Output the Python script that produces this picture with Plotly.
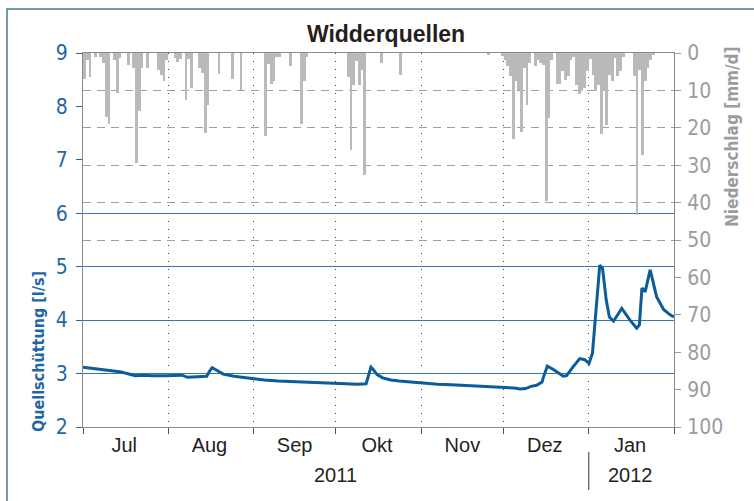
"""
Widderquellen: Quellschüttung und Niederschlag, Jul 2011 - Jan 2012
"""

import plotly.graph_objects as go

# --- data -------------------------------------------------------------------

# daily precipitation [mm/d] (days without rain are left out)
precip_dates = [
    "2011-07-01", "2011-07-02", "2011-07-03", "2011-07-05", "2011-07-07", "2011-07-08",
    "2011-07-09", "2011-07-10", "2011-07-12", "2011-07-13", "2011-07-14", "2011-07-17",
    "2011-07-19", "2011-07-20", "2011-07-21", "2011-07-22", "2011-07-24", "2011-07-28",
    "2011-07-29", "2011-07-30", "2011-07-31",
    "2011-08-03", "2011-08-04", "2011-08-05", "2011-08-07", "2011-08-08", "2011-08-09",
    "2011-08-12", "2011-08-13", "2011-08-14", "2011-08-15", "2011-08-19", "2011-08-24",
    "2011-08-27",
    "2011-09-05", "2011-09-06", "2011-09-07", "2011-09-08", "2011-09-09", "2011-09-10",
    "2011-09-14", "2011-09-18", "2011-09-19", "2011-09-20",
    "2011-10-05", "2011-10-06", "2011-10-07", "2011-10-08", "2011-10-09", "2011-10-10",
    "2011-10-11", "2011-10-17", "2011-10-24",
    "2011-11-25", "2011-11-30",
    "2011-12-01", "2011-12-02", "2011-12-03", "2011-12-04", "2011-12-05", "2011-12-06",
    "2011-12-07", "2011-12-08", "2011-12-09", "2011-12-10", "2011-12-12", "2011-12-13",
    "2011-12-14", "2011-12-15", "2011-12-16", "2011-12-17", "2011-12-18", "2011-12-20",
    "2011-12-21", "2011-12-22", "2011-12-23", "2011-12-24", "2011-12-25", "2011-12-26",
    "2011-12-27", "2011-12-28", "2011-12-29", "2011-12-30", "2011-12-31",
    "2012-01-01", "2012-01-02", "2012-01-03", "2012-01-04", "2012-01-05", "2012-01-06",
    "2012-01-07", "2012-01-08", "2012-01-09", "2012-01-10", "2012-01-11", "2012-01-12",
    "2012-01-13", "2012-01-17", "2012-01-18", "2012-01-19", "2012-01-20", "2012-01-21",
    "2012-01-22", "2012-01-23", "2012-01-24",
]
precip_mm = [
    7.0, 2.0, 6.5, 1.0, 1.2, 2.7,
    17.0, 19.0, 1.8, 10.7, 1.3, 3.3,
    4.0, 29.5, 15.4, 4.0, 4.0, 4.5,
    5.8, 7.4, 2.0,
    1.3, 2.4, 1.5, 12.5, 1.5, 9.4,
    4.0, 5.3, 21.4, 14.0, 5.6, 6.9,
    10.0,
    22.3, 3.0, 8.3, 7.6, 1.2, 1.0,
    3.6, 19.0, 7.6, 1.2,
    6.5, 26.0, 8.5, 2.2, 8.6, 4.5,
    32.5, 2.7, 5.8,
    0.4, 0.8,
    2.0, 3.6, 6.2, 22.9, 7.4, 9.8,
    21.0, 4.0, 13.8, 2.7, 3.6, 1.8,
    2.7, 3.1, 39.7, 17.4, 1.8, 8.3,
    8.3, 4.9, 7.1, 6.2, 2.0, 1.0,
    8.6, 11.0, 10.2, 9.4, 4.9,
    1.5, 5.8, 10.2, 8.6, 21.7, 10.2,
    19.3, 5.8, 7.6, 1.3, 6.2, 4.9,
    1.0, 6.2, 43.2, 4.5, 27.2, 7.6,
    4.0, 1.8, 0.5,
]

# spring discharge [l/s]
flow_times = [
    "2011-07-01", "2011-07-04", "2011-07-09", "2011-07-13", "2011-07-15", "2011-07-17",
    "2011-07-20", "2011-07-23", "2011-07-26", "2011-07-31", "2011-08-04", "2011-08-06",
    "2011-08-08", "2011-08-11", "2011-08-15", "2011-08-16", "2011-08-17", "2011-08-18",
    "2011-08-21", "2011-08-25", "2011-08-28", "2011-09-01", "2011-09-05", "2011-09-10",
    "2011-09-15", "2011-09-20", "2011-09-25", "2011-09-30", "2011-10-03", "2011-10-06",
    "2011-10-09", "2011-10-12", "2011-10-13 06:00", "2011-10-13 18:00", "2011-10-14 12:00",
    "2011-10-16", "2011-10-18", "2011-10-21", "2011-10-24", "2011-10-28", "2011-11-02",
    "2011-11-07", "2011-11-12", "2011-11-17", "2011-11-22", "2011-11-27", "2011-12-02",
    "2011-12-05", "2011-12-07", "2011-12-09", "2011-12-11", "2011-12-13", "2011-12-15",
    "2011-12-15 10:00", "2011-12-16 22:00", "2011-12-19", "2011-12-22 17:00",
    "2011-12-23 22:00", "2011-12-26 08:00", "2011-12-28 17:00", "2011-12-30 12:00",
    "2012-01-01 02:00", "2012-01-02 08:00", "2012-01-03 12:00", "2012-01-04 10:00",
    "2012-01-05", "2012-01-06", "2012-01-07 08:00", "2012-01-08 12:00", "2012-01-10",
    "2012-01-13", "2012-01-16", "2012-01-18 10:00", "2012-01-19 10:00", "2012-01-20 08:00",
    "2012-01-21 12:00", "2012-01-23 08:00", "2012-01-25 16:00", "2012-01-28 05:00",
    "2012-01-30 14:00", "2012-02-01",
]
flow_ls = [
    3.12, 3.10, 3.06, 3.04, 3.03, 3.00,
    2.96, 2.97, 2.96, 2.96, 2.96, 2.97,
    2.93, 2.94, 2.95, 3.04, 3.11, 3.08,
    2.99, 2.95, 2.93, 2.90, 2.88, 2.86,
    2.85, 2.85, 2.84, 2.83, 2.82, 2.82,
    2.80, 2.81, 3.04, 3.12, 3.08,
    2.98, 2.92, 2.88, 2.86, 2.84, 2.82,
    2.80, 2.79, 2.78, 2.77, 2.76, 2.74,
    2.73, 2.71, 2.72, 2.76, 2.78, 2.84,
    2.92, 3.14, 3.08, 2.95,
    2.96, 3.13, 3.28, 3.26,
    3.19, 3.38, 4.06, 4.69,
    5.03, 4.97, 4.38, 4.06, 3.98,
    4.22, 4.00, 3.85, 3.91, 4.60,
    4.53, 4.94, 4.44, 4.20,
    4.10, 4.06,
]

# axis labels
month_starts = ["2011-07-01", "2011-08-01", "2011-09-01", "2011-10-01", "2011-11-01",
                "2011-12-01", "2012-01-01", "2012-02-01"]
month_mids = ["2011-07-16", "2011-08-16", "2011-09-16", "2011-10-16", "2011-11-16",
              "2011-12-16", "2012-01-16"]
month_names = ["Jul", "Aug", "Sep", "Okt", "Nov", "Dez", "Jan"]
years = ["2011", "2012"]
year_pos = ["2011-10-01", "2012-01-16"]

BLUE = '#0b5c99'
AXIS_BLUE = '#1f67a3'
GRAY = '#9b9c9e'
BAR_GRAY = '#b9babc'
NARROW = 'Liberation Sans Narrow, DejaVu Sans Condensed, Roboto Condensed, Roboto, sans-serif'
SANS = 'Liberation Sans, Arial, sans-serif'

# plot area in pixels
L, R, T, B = 83, 674, 53, 427
PW, PH = R - L, B - T

# --- figure -----------------------------------------------------------------

fig = go.Figure()

fig.add_trace(go.Bar(
    x=precip_dates,
    y=precip_mm,
    yaxis='y2',
    xperiod=86400000,
    xperiodalignment='middle',
    width=86400000,
    marker=dict(color=BAR_GRAY, line=dict(width=0)),
    name='Niederschlag',
))

fig.add_trace(go.Scatter(
    x=flow_times,
    y=flow_ls,
    mode='lines',
    line=dict(color=BLUE, width=3),
    name='Quellschüttung',
))

# empty helpers so the two grid-only axes get drawn
fig.add_trace(go.Scatter(x=[], y=[], yaxis='y3', hoverinfo='skip'))
fig.add_trace(go.Scatter(x=[], y=[], yaxis='y4', hoverinfo='skip'))

fig.update_layout(
    width=754,
    height=501,
    margin=dict(l=L, r=754 - R, t=T, b=501 - B),
    paper_bgcolor='white',
    plot_bgcolor='white',
    showlegend=False,
    bargap=0,
    title=dict(
        text='<b>Widderquellen</b>',
        x=386 / 754, xanchor='center',
        y=1 - 34 / 501, yanchor='middle',
        font=dict(family=SANS, size=23, color='#231f20'),
    ),
    xaxis=dict(
        type='date',
        range=[month_starts[0], month_starts[-1]],
        tickvals=month_mids,
        ticktext=month_names,
        ticks='',
        tickfont=dict(family=SANS, size=20, color='#231f20'),
        showgrid=False,
        zeroline=False,
        showline=True,
        linecolor='#8a8a8a',
        linewidth=1,
        mirror=True,
        minor=dict(
            tickvals=month_starts,
            ticks='outside',
            ticklen=6,
            tickcolor='#555555',
            showgrid=True,
            gridcolor='#444444',
            griddash='1px,7px',
            gridwidth=1,
        ),
    ),
    yaxis=dict(
        range=[2, 9],
        tickvals=[2, 3, 4, 5, 6, 7, 8, 9],
        ticks='outside',
        ticklen=6,
        tickcolor=AXIS_BLUE,
        ticklabelstandoff=4,
        tickfont=dict(family=NARROW, size=21, color=AXIS_BLUE),
        showgrid=False,
        zeroline=False,
        showline=True,
        linecolor='#8a8a8a',
    ),
    yaxis2=dict(
        overlaying='y',
        side='right',
        range=[100, 0],
        tickvals=[0, 10, 20, 30, 40, 50, 60, 70, 80, 90, 100],
        ticks='outside',
        ticklen=6,
        tickcolor=GRAY,
        ticklabelstandoff=2,
        tickfont=dict(family=NARROW, size=21, color=GRAY),
        showgrid=False,
        zeroline=False,
        showline=True,
        linecolor='#8a8a8a',
    ),
    # blue grid for discharge (lower part only)
    yaxis3=dict(
        overlaying='y',
        range=[2, 9],
        tickvals=[3, 4, 5, 6],
        showticklabels=False,
        ticks='',
        showgrid=True,
        gridcolor='#3a76ab',
        gridwidth=1,
        zeroline=False,
    ),
    # dashed grid for precipitation (upper part only)
    yaxis4=dict(
        overlaying='y',
        side='right',
        range=[100, 0],
        tickvals=[10, 20, 30, 40, 50],
        showticklabels=False,
        ticks='',
        showgrid=True,
        gridcolor='#a0a0a0',
        griddash='8px,6px',
        gridwidth=1,
        zeroline=False,
    ),
)

# axis titles
fig.add_annotation(
    text='<b>Quellschüttung [l/s]</b>',
    xref='paper', yref='paper',
    x=(38 - L) / PW, y=(B - 351) / PH,
    xanchor='center', yanchor='middle',
    textangle=-90, showarrow=False,
    font=dict(family=NARROW, size=16, color=AXIS_BLUE),
)
fig.add_annotation(
    text='<b>Niederschlag [mm/d]</b>',
    xref='paper', yref='paper',
    x=(732 - L) / PW, y=(B - 137) / PH,
    xanchor='center', yanchor='middle',
    textangle=-90, showarrow=False,
    font=dict(family=NARROW, size=17, color=GRAY),
)

# year labels
for label, pos in zip(years, year_pos):
    fig.add_annotation(
        text=label, x=pos, xref='x',
        y=(B - 475) / PH, yref='paper',
        xanchor='center', yanchor='middle',
        showarrow=False,
        font=dict(family=SANS, size=20, color='#231f20'),
    )

# separator between the years
fig.add_shape(
    type='line', xref='x', yref='paper',
    x0=month_starts[6], x1=month_starts[6],
    y0=(B - 452) / PH, y1=(B - 490) / PH,
    line=dict(color='#333333', width=1),
)

# frame around the graphic
fig.add_shape(
    type='rect', xref='paper', yref='paper',
    x0=(7 - L) / PW, x1=(770 - L) / PW,
    y0=(B - 520) / PH, y1=(B - 9) / PH,
    line=dict(color='#3f7f8f', width=1.5),
)

fig.write_html("out.html", config={'displayModeBar': False},
               post_script="document.body.style.margin='0';")
